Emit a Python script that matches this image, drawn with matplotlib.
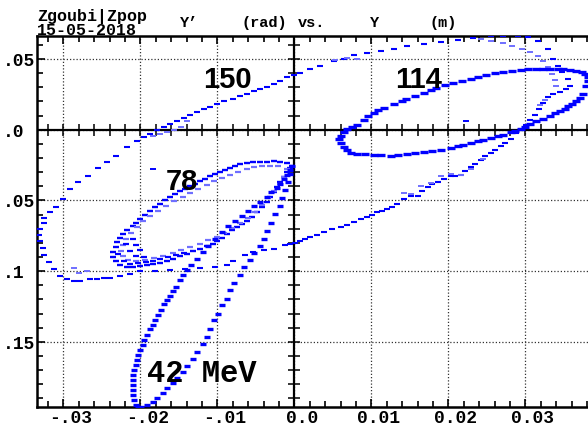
import numpy as np
import matplotlib
matplotlib.use("Agg")
import matplotlib.pyplot as plt
import matplotlib.transforms as mtransforms

# ---- data: Y (mm), Y' (mrad) ----
e150 = np.array([
    (-33.0,-70.4),(-32.5,-66.1),(-32.5,-62.6),(-31.7,-58.4),(-31.0,-54.8),(-30.1,-49.1),(-29.1,-42.1),
    (-28.1,-37.1),(-26.8,-32.8),(-25.5,-27.2),(-24.3,-22.9),(-23.2,-18.6),(-21.7,-12.3),(-20.4,-8.0),
    (-19.5,-5.2),(-18.7,-3.0),(-17.8,-0.2),(-16.9,1.9),(-16.1,4.0),(-15.2,6.2),(-14.3,8.3),(-13.5,10.4),
    (-12.6,12.6),(-11.7,14.7),(-10.9,16.1),(-10.0,18.2),(-9.1,20.4),(-7.9,21.8),(-7.0,23.9),(-6.1,25.3),
    (-5.2,27.4),(-4.4,28.9),(-3.5,30.3),(-2.7,32.4),(-1.8,34.5),(-0.9,37.4),(-0.1,38.8),(0.8,40.2),
    (2.1,43.0),(3.4,45.2),(5.1,48.7),(6.4,50.1),(7.7,53.0),(9.5,54.4),(11.2,55.8),(12.9,57.2),(14.7,59.4),
    (16.8,60.8),(19.0,62.2),(21.2,63.6),(23.2,65.0),(25.5,66.0),(27.1,66.3),(29.0,66.3),(30.3,65.5),
    (31.6,62.9),(32.9,57.2),(33.6,50.1),(34.2,45.2),(34.8,40.9),(35.5,36.0),(35.8,31.0),(35.3,28.9),
    (34.5,26.7),(33.6,25.3),(33.0,23.2),(32.3,18.9),(31.8,14.7),(31.3,10.4),(30.6,6.9),(30.1,3.3),
    (29.5,0.5),(28.8,-2.3),(28.1,-6.6),(27.4,-9.4),(26.8,-11.6),(26.1,-14.4),(25.5,-16.5),(24.8,-18.6),
    (24.2,-21.5),(23.5,-24.3),(22.9,-26.4),(22.2,-29.3),(21.6,-32.1),(20.9,-32.8),(20.3,-32.8),
    (19.4,-35.0),(18.6,-37.1),(17.9,-38.5),(17.3,-40.6),(16.6,-43.5),(16.0,-47.0),(15.1,-47.0),
    (14.2,-49.1),(13.4,-52.7),(12.7,-54.8),(12.1,-56.2),(11.4,-57.7),(10.8,-58.4),(10.1,-60.5),
    (9.5,-61.9),(8.6,-63.3),(7.7,-65.4),(6.8,-67.5),(6.0,-69.0),(4.9,-70.4),(3.8,-72.6),(3.0,-74.7),
    (2.1,-76.1),(1.4,-77.5),(0.8,-78.9),(0.1,-80.4),(-0.5,-81.1),(-1.2,-81.8),(-2.7,-84.6),(-4.0,-85.3),
    (-5.3,-86.7),(-6.4,-88.9),(-7.9,-93.1),(-8.7,-96.0),(-10.3,-97.4),(-12.2,-98.1),(-14.2,-98.8),
    (-16.1,-99.5),(-18.1,-100.2),(-20.0,-100.2),(-21.3,-102.4),(-22.6,-103.8),(-23.9,-105.2),
    (-24.7,-105.2),(-25.6,-105.9),(-26.5,-105.9),(-27.8,-107.3),(-28.6,-107.3),(-29.5,-105.9),
    (-30.4,-103.8),(-31.2,-98.8),(-31.8,-93.8),(-32.5,-88.9),(-32.7,-83.9),(-33.0,-79.0),(-33.2,-74.7),
])
e150_turns = np.array([
    (-18.4,-4.5),(-17.4,-3.1),(-16.5,-1.6),(-15.6,-0.2),(-14.7,1.9),(-13.9,6.2),
    (5.3,49.4),(6.9,50.8),(8.2,50.1),(24.2,64.3),(25.5,62.9),(27.1,61.5),(28.3,59.4),(29.6,57.2),
    (30.6,55.1),(31.6,52.3),(32.3,48.7),(33.0,44.5),(33.5,39.5),(33.9,35.2),(34.0,31.0),
    (32.5,21.1),(31.9,17.5),(14.2,-44.9),(15.1,-45.6),(16.4,-40.0),(17.7,-38.0),(19.0,-33.0),
    (20.3,-31.4),(21.7,-32.1),(22.9,-28.0),(24.5,-20.5),(-28.6,-98.1),(-27.9,-101.6),(-26.9,-100.2),
])
e114 = np.array([
    (6.0,-4.5),(6.4,-1.6),(6.9,0.5),(7.5,1.9),(8.2,3.3),(9.0,6.9),(9.6,9.7),(10.3,11.8),(10.9,14.0),
    (11.6,15.4),(12.9,18.2),(14.0,20.4),(14.5,21.8),(15.7,23.9),(16.8,26.0),(17.7,28.2),(18.4,29.6),
    (19.6,31.7),(20.6,33.1),(21.8,34.5),(22.9,36.0),(23.9,37.4),(24.9,38.8),(26.1,40.2),(27.1,40.9),
    (28.3,41.6),(29.4,42.3),(30.4,43.0),(31.4,43.0),(32.3,43.0),(33.2,43.0),(34.2,43.0),(34.9,43.0),
    (35.8,42.3),(36.6,41.6),(37.3,40.9),(37.8,39.5),(38.2,37.4),(38.1,34.5),(37.9,31.0),(37.5,25.3),
    (37.1,22.5),(36.6,20.4),(36.1,18.2),(35.6,16.8),(35.1,14.7),(34.5,13.3),(33.9,11.8),(33.2,9.7),
    (32.3,7.6),(31.4,6.2),(30.6,4.0),(30.0,1.9),(29.4,0.5),(28.7,-0.9),(28.1,-1.6),(27.1,-3.8),
    (26.4,-4.5),(25.5,-5.9),(24.5,-7.3),(23.8,-8.0),(22.9,-9.4),(21.9,-10.9),(21.2,-11.6),(20.3,-13.0),
    (19.0,-14.4),(17.9,-15.1),(16.8,-15.8),(15.7,-16.5),(14.7,-17.2),(13.5,-17.9),(12.5,-18.6),
    (11.3,-17.9),(10.3,-17.9),(9.2,-17.2),(8.2,-17.2),(7.3,-16.5),(6.8,-14.4),(6.4,-12.3),(6.1,-9.4),
    (5.8,-6.6),
])
e78_outer = np.array([
    (-0.3,-25.7),(-0.9,-23.6),(-1.8,-22.9),(-2.7,-22.2),(-3.5,-22.9),(-4.4,-22.9),(-5.3,-22.9),
    (-6.1,-23.6),(-7.0,-24.3),(-7.7,-25.7),(-8.3,-27.2),(-9.0,-28.6),(-9.6,-30.0),(-10.3,-31.4),
    (-10.9,-32.8),(-11.6,-35.0),(-12.2,-36.4),(-12.9,-38.5),(-13.5,-39.9),(-14.2,-42.1),(-14.8,-43.5),
    (-15.5,-45.6),(-16.1,-47.7),(-16.8,-49.9),(-17.4,-52.7),(-18.1,-54.8),(-18.7,-57.7),(-19.4,-60.5),
    (-20.0,-63.3),(-20.5,-66.1),(-21.0,-68.3),(-21.7,-71.1),(-22.2,-74.0),(-22.6,-76.8),(-23.0,-79.6),
    (-23.2,-83.2),(-23.5,-86.7),(-23.5,-90.3),(-23.2,-93.1),(-22.7,-96.0),(-21.7,-97.4),(-20.9,-97.4),
    (-20.0,-96.7),(-19.1,-96.0),(-18.3,-95.3),(-17.4,-94.6),(-16.5,-93.1),(-15.7,-91.7),(-14.8,-89.6),
    (-13.9,-88.2),(-13.1,-86.0),(-12.2,-84.6),(-11.3,-82.5),(-10.6,-81.1),(-10.0,-78.9),(-9.4,-76.8),
    (-8.7,-74.0),(-8.1,-71.1),(-7.4,-69.0),(-6.8,-66.8),(-6.1,-64.7),(-5.5,-61.9),(-4.8,-58.4),
    (-4.2,-54.8),(-3.5,-51.3),(-3.1,-47.7),(-2.7,-44.2),(-2.2,-40.6),(-1.8,-37.1),(-1.3,-33.5),
    (-0.9,-30.0),(-0.5,-27.2),
])
e78_inner = np.array([
    (-1.0,-27.9),(-2.1,-25.7),(-3.1,-25.7),(-4.2,-25.7),(-5.2,-26.4),(-6.2,-27.9),(-7.3,-30.0),
    (-8.3,-32.1),(-9.4,-34.3),(-10.4,-36.4),(-11.4,-39.2),(-12.5,-42.1),(-13.5,-44.9),(-14.5,-47.7),
    (-15.6,-50.6),(-16.6,-54.1),(-17.7,-57.7),(-18.7,-61.2),(-19.6,-64.7),(-20.4,-69.0),(-21.2,-73.3),
    (-21.8,-77.5),(-22.3,-81.8),(-22.5,-86.0),(-22.2,-89.6),(-21.6,-92.4),(-20.5,-93.1),(-19.4,-92.4),
    (-18.2,-91.0),(-17.0,-89.6),(-15.8,-87.4),(-14.7,-85.3),(-13.5,-83.2),(-12.3,-81.1),(-11.2,-78.2),
    (-10.1,-76.1),(-9.1,-73.3),(-8.1,-69.7),(-7.0,-66.1),(-6.0,-62.6),(-5.1,-58.4),(-4.2,-53.4),
    (-3.4,-48.4),(-2.6,-43.5),(-1.9,-38.5),(-1.4,-33.5),
])
e78_core = np.array([
    (-22.9,-87.8),(-22.1,-92.8),(-21.3,-95.0),(-20.3,-94.3),(-19.2,-93.6),(-21.8,-80.9),(-21.3,-85.8),
    (-20.5,-89.4),(-19.5,-90.1),(-18.4,-92.9),(-17.4,-91.5),(-16.4,-90.1),(-15.3,-88.7),(-14.3,-87.3),
    (-21.0,-77.3),(-20.5,-81.6),(-20.0,-85.1),
])
e42 = np.array([
    (-20.3,-195.9),(-20.5,-194.5),(-20.8,-191.0),(-20.9,-187.4),(-21.0,-183.9),(-21.0,-180.4),
    (-21.0,-176.8),(-20.9,-173.3),(-20.8,-169.7),(-20.6,-166.2),(-20.4,-162.6),(-20.3,-159.1),
    (-20.0,-155.5),(-19.7,-152.0),(-19.5,-148.4),(-19.1,-144.9),(-18.8,-141.3),(-18.4,-137.8),
    (-18.1,-134.3),(-17.7,-130.7),(-17.3,-127.2),(-16.9,-123.6),(-16.5,-120.1),(-16.1,-117.3),
    (-15.7,-114.4),(-15.3,-110.9),(-14.8,-106.6),(-14.4,-103.1),(-13.9,-99.5),(-13.4,-96.0),
    (-12.7,-91.7),(-11.9,-86.7),(-11.2,-82.5),(-10.3,-77.5),(-9.4,-72.6),(-8.6,-68.3),(-7.7,-64.7),
    (-6.8,-61.2),(-6.0,-57.7),(-5.2,-54.1),(-4.4,-51.3),(-3.6,-47.7),(-3.0,-44.2),(-2.3,-41.3),
    (-1.8,-38.5),(-1.3,-35.0),(-0.9,-32.1),(-0.5,-28.6),(-0.3,-25.7),
    (-0.5,-31.4),(-0.8,-37.1),(-1.2,-42.8),(-1.6,-48.4),(-1.9,-54.1),(-2.5,-59.8),(-3.0,-66.1),
    (-3.5,-71.8),(-4.0,-77.5),(-4.5,-82.5),(-5.2,-87.4),(-5.8,-92.4),(-6.5,-97.4),(-7.1,-103.1),
    (-7.8,-108.7),(-8.3,-113.7),(-8.8,-119.4),(-9.4,-124.3),(-9.9,-130.0),(-10.4,-134.9),
    (-10.9,-140.6),(-11.4,-146.3),(-11.9,-151.3),(-12.6,-157.0),(-13.2,-161.9),(-13.9,-166.9),
    (-14.5,-171.1),(-15.2,-175.4),(-15.8,-178.9),(-16.5,-182.5),(-17.1,-186.1),(-17.8,-189.6),
    (-18.4,-192.4),(-19.1,-194.5),(-19.9,-195.9),
])
stray = np.array([(-18.3,-27.9),(22.3,6.2)])

labels = ["150", "114", "78", "42 MeV"]
xticks = [-0.03, -0.02, -0.01, 0.0, 0.01, 0.02, 0.03]
xticklabels = ["-.03", "-.02", "-.01", "0.0", "0.01", "0.02", "0.03"]
yticks = [0.05, 0.0, -0.05, -0.1, -0.15]
yticklabels = [".05", ".0", ".05", ".1", ".15"]   # as visible (sign cut off at the edge)

# ---- figure ----
W, H = 588, 427
fig = plt.figure(figsize=(W/100, H/100), dpi=100)
L, T, B, R = 37.3, 36.7, 408.3, 600.0
ax = fig.add_axes([L/W, 1-B/H, (R-L)/W, (B-T)/H])
x0px, xs = 294.3, 7700.0
y0px, ys = 130.7, 1414.0
ax.set_xlim((L-x0px)/xs, (R-x0px)/xs)
ax.set_ylim((y0px-B)/ys, (y0px-T)/ys)

ax.set_xticks(xticks)
ax.set_yticks(yticks)
ax.set_xticks(np.arange(-0.032, 0.0395, 0.002), minor=True)
ax.set_yticks(np.arange(-0.19, 0.065, 0.01), minor=True)
ax.tick_params(which='both', direction='in', top=True, bottom=True, left=True, right=False,
               labelbottom=False, labelleft=False, color='k', width=1.2)
ax.tick_params(which='major', length=6)
ax.tick_params(which='minor', length=4)
for s in ['left', 'top', 'bottom']:
    ax.spines[s].set_linewidth(1.8)
ax.spines['right'].set_visible(False)
ax.grid(which='major', linestyle=(0, (1, 1.6)), color='#333333', linewidth=0.9)
ax.axhline(0, color='k', lw=1.6, zorder=2)
ax.axvline(0, color='k', lw=1.6, zorder=2)
ax.plot(np.arange(-0.032, 0.0395, 0.002), np.zeros(36), ls='none', marker='|', ms=8,
        mew=1.1, color='k', zorder=2)
ax.plot(np.zeros(26), np.arange(-0.19, 0.065, 0.01), ls='none', marker='_', ms=8,
        mew=1.1, color='k', zorder=2)

blue = '#0000ff'
light = '#6f6fff'
def dots(arr, color=blue, ms=5, mew=1.7):
    ax.plot(arr[:, 0]/1000, arr[:, 1]/1000, ls='none', marker='_', ms=ms, mew=mew,
            color=color, zorder=3, clip_on=True)

dots(e150, ms=5, mew=1.5)
dots(e150_turns, color=light, ms=5, mew=1.4)
dots(e114, ms=6, mew=2.4)
dots(e78_outer, ms=5, mew=1.7)
dots(e78_inner, color=light, ms=5, mew=1.6)
dots(e78_core, ms=5, mew=1.6)
dots(e42, ms=5, mew=2.4)
dots(stray, ms=5, mew=1.4)

# in-plot labels (baseline positions)
sans = dict(family='Liberation Sans', size=21, weight='bold', va='baseline', ha='left', zorder=4)
ax.text(-0.01182, 0.0302, labels[0], **sans)
ax.text(0.01308, 0.0302, labels[1], **sans)
ax.text(-0.01666, -0.04194, labels[2], **sans)
ax.text(-0.01913, -0.17772, labels[3], family='Liberation Mono', weight='bold', size=22,
        va='baseline', ha='left', zorder=4)

# tick labels
mono = dict(family='Liberation Mono', weight='bold')
xtr = ax.get_xaxis_transform()
for t, s in zip(xticks, xticklabels):
    ax.text(t + 7.5/xs, (B-423.5)/(B-T), s, transform=xtr, ha='center', va='baseline',
            size=13, clip_on=False, **mono)
ytr = ax.get_yaxis_transform() + mtransforms.ScaledTranslation(0, -6/100, fig.dpi_scale_trans)
for t, s in zip(yticks, yticklabels):
    ax.text((2.5-L)/(R-L), t, s, transform=ytr, ha='left', va='baseline',
            size=13, clip_on=False, **mono)

# header
fig.text(37/W, 1-21/H, 'Zgoubi|Zpop', ha='left', va='baseline', size=12, **mono)
fig.text(37/W, 1-35/H, '15-05-2018', ha='left', va='baseline', size=12, **mono)
for px, s in [(180, 'Y\u2019'), (242, '(rad)'), (298, 'vs.'), (370, 'Y'), (430, '(m)')]:
    fig.text(px/W, 1-27/H, s, ha='left', va='baseline', size=11, **mono)

fig.savefig('out.png', dpi=100)
